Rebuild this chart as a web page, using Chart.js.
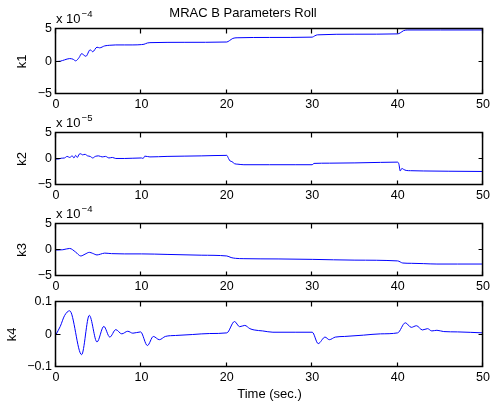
<!DOCTYPE html>
<html><head><meta charset="utf-8">
<script src="https://cdn.jsdelivr.net/npm/chart.js@4.4.0/dist/chart.umd.min.js"></script>
<style>
html,body{margin:0;padding:0;background:#fff;}
#wrap{position:relative;width:493px;height:404px;overflow:hidden;background:#fff;}
canvas{position:absolute;left:0;top:0;}
.exp{position:absolute;left:56px;font-family:'Liberation Sans',Arial,sans-serif;font-size:13px;line-height:16px;color:#000;white-space:nowrap;}
.exp sup{font-size:9.5px;vertical-align:0;position:relative;top:-6px;margin-left:1px;}
</style></head>
<body><div id="wrap">
<canvas id="c1" width="493" height="404"></canvas>
<canvas id="c2" width="493" height="404"></canvas>
<canvas id="c3" width="493" height="404"></canvas>
<canvas id="c4" width="493" height="404"></canvas>
<div class="exp" id="e1">x 10<sup>&minus;4</sup></div>
<div class="exp" id="e2">x 10<sup>&minus;5</sup></div>
<div class="exp" id="e3">x 10<sup>&minus;4</sup></div>
</div>
<script>
// ---------- data ----------
const chartTitle = 'MRAC B Parameters Roll';
const xLabel = 'Time (sec.)';
const xTicks = [0, 10, 20, 30, 40, 50];
const xTickLabels = ['0', '10', '20', '30', '40', '50'];
const smallTicks = [-5, 0, 5];
const smallTickLabels = ['\u22125', '0', '5'];
const k4Ticks = [-0.1, 0, 0.1];
const k4TickLabels = ['\u22120.1', '0', '0.1'];

// k1 (x 1e-4)
const k1T = [0, 0.5, 1.0, 1.6, 2.0, 2.3, 2.7, 3.0, 3.5, 4.0, 4.3, 4.8, 5.1, 5.7, 6.3, 7, 8, 9, 10, 10.3, 10.7, 11, 15, 20, 20.3, 20.7, 21.2, 25, 30, 30.3, 30.6, 35, 40, 40.3, 40.7, 41.2, 45, 50];
const k1V = [0, 0.05, 0.25, 0.45, 0.35, 0.1, 0.6, 1.2, 0.8, 1.8, 1.5, 2.2, 2.1, 2.4, 2.5, 2.55, 2.55, 2.55, 2.6, 2.65, 2.85, 2.9, 2.95, 3.0, 3.2, 3.55, 3.65, 3.7, 3.75, 3.95, 4.1, 4.2, 4.25, 4.4, 4.75, 4.85, 4.85, 4.85];

// k2 (x 1e-5)
const k2T = [0, 0.3, 0.6, 1.0, 1.3, 1.6, 1.9, 2.1, 2.3, 2.5, 2.7, 2.9, 3.1, 3.4, 3.7, 4.0, 4.3, 4.6, 5.0, 5.4, 5.8, 6.2, 6.6, 7.0, 8, 9, 10, 10.2, 10.4, 11, 13, 15, 17, 20, 20.2, 20.4, 20.6, 20.9, 21.3, 22, 25, 28, 30, 30.2, 32, 35, 38, 40, 40.15, 40.3, 40.5, 40.7, 41, 41.5, 43, 46, 50];
const k2V = [0, 0.0, 0.15, 0.2, 0.5, 0.3, 0.6, 0.2, 0.7, 0.3, 0.9, 1.0, 0.8, 0.9, 0.6, 0.5, 0.2, 0.5, 0.6, 0.4, 0.5, 0.2, 0.3, 0.1, 0.1, 0.15, 0.2, 0.1, 0.55, 0.4, 0.5, 0.55, 0.6, 0.7, 0.1, -0.4, -0.5, -0.9, -1.0, -1.1, -1.1, -1.1, -1.1, -0.85, -0.8, -0.75, -0.65, -0.6, -1.0, -2.3, -1.8, -2.0, -2.2, -2.25, -2.3, -2.35, -2.4];

// k3 (x 1e-4)
const k3T = [0, 0.8, 1.6, 2.3, 2.9, 3.4, 3.9, 4.3, 4.8, 5.2, 5.7, 6.5, 8, 10, 13, 17, 20, 20.5, 21, 22, 26, 30, 35, 40, 40.6, 41.6, 43, 44.6, 47, 50];
const k3V = [0, 0.05, 0.3, -0.4, -1.15, -0.8, -0.45, -0.65, -0.95, -0.8, -0.6, -0.7, -0.75, -0.75, -0.85, -1.0, -1.15, -1.45, -1.6, -1.67, -1.72, -1.8, -1.95, -2.1, -2.5, -2.56, -2.62, -2.7, -2.7, -2.7];

// k4
const k4T = [0, 0.5, 1.0, 1.6, 3.0, 3.9, 4.8, 5.6, 6.3, 7.0, 7.7, 8.4, 9.0, 9.9, 10.7, 11.4, 12.1, 12.8, 14, 16, 18, 20, 20.9, 21.5, 22.1, 22.7, 23.2, 24.2, 25.4, 28, 30, 30.7, 31.5, 32.0, 32.7, 33.8, 36, 38, 40, 40.9, 41.6, 42.2, 42.9, 43.5, 44.0, 44.6, 45.4, 47, 50];
const k4V = [0, 0.025, 0.058, 0.073, -0.062, 0.059, -0.023, 0.025, -0.008, 0.015, 0.002, 0.010, 0.004, 0.008, -0.034, -0.006, -0.016, -0.006, -0.003, 0.0, 0.003, 0.005, 0.040, 0.024, 0.028, 0.018, 0.014, 0.011, 0.007, 0.007, 0.007, -0.028, -0.008, -0.016, -0.008, -0.006, -0.002, 0.002, 0.005, 0.036, 0.022, 0.027, 0.014, 0.018, 0.011, 0.013, 0.009, 0.008, 0.005];

// ---------- layout ----------
const W = 493, H = 404;
const FONT = "'Liberation Sans', Arial, Helvetica, sans-serif";
Chart.defaults.color = '#000';
Chart.defaults.font.family = FONT;

const boxTicks = {
  id: 'boxTicks',
  afterDatasetsDraw(chart) {
    const {ctx, chartArea: a, scales: {x, y}} = chart;
    const L = 4.5;
    ctx.save();
    ctx.strokeStyle = '#000';
    ctx.lineWidth = 1.2;
    ctx.beginPath();
    x.ticks.forEach(t => {
      const px = Math.round(x.getPixelForValue(t.value)) - 0.5;
      ctx.moveTo(px, a.bottom); ctx.lineTo(px, a.bottom - L);
      ctx.moveTo(px, a.top); ctx.lineTo(px, a.top + L);
    });
    y.ticks.forEach(t => {
      const py = Math.round(y.getPixelForValue(t.value)) - 0.5;
      ctx.moveTo(a.left, py); ctx.lineTo(a.left + L, py);
      ctx.moveTo(a.right, py); ctx.lineTo(a.right - L, py);
    });
    ctx.stroke();
    ctx.lineWidth = 1.5;
    ctx.strokeRect(a.left - 0.5, a.top - 0.5, a.right - a.left, a.bottom - a.top);
    ctx.restore();
  }
};

function makeChart(id, o) {
  const axisH = o.xTitle ? (H - o.bottom) : 20;
  const padBottom = H - o.bottom - axisH;
  new Chart(document.getElementById(id), {
    type: 'line',
    data: {
      datasets: [{
        data: o.t.map((t, i) => ({x: t, y: o.v[i]})),
        borderColor: '#0000ff',
        borderWidth: 1,
        pointRadius: 0,
        fill: false,
        cubicInterpolationMode: 'monotone'
      }]
    },
    options: {
      responsive: false,
      animation: false,
      devicePixelRatio: 1,
      events: [],
      layout: {padding: {left: 0, right: 7, top: o.title ? 0 : o.top, bottom: padBottom}},
      plugins: {
        legend: {display: false},
        tooltip: {enabled: false},
        title: o.title ? {
          display: true, text: o.title, color: '#000',
          font: {family: FONT, size: 13, weight: 'normal'},
          padding: {top: 5.2, bottom: o.top - 15.6 - 5.2}
        } : {display: false}
      },
      scales: {
        x: {
          type: 'linear', min: 0, max: 50,
          afterBuildTicks: s => { s.ticks = xTicks.map(v => ({value: v})); },
          afterFit: s => { s.height = axisH; },
          grid: {display: false, drawTicks: false},
          border: {display: false},
          ticks: {
            callback: (v, i) => xTickLabels[i],
            padding: 3, maxRotation: 0, autoSkip: false,
            font: {family: FONT, size: 12.5}, color: '#000'
          },
          title: o.xTitle ? {
            display: true, text: o.xTitle, color: '#000',
            font: {family: FONT, size: 13},
            padding: {top: 2.2, bottom: 2.2}
          } : {display: false}
        },
        y: {
          type: 'linear', min: o.ticks[0], max: o.ticks[o.ticks.length - 1],
          afterBuildTicks: s => { s.ticks = o.ticks.map(v => ({value: v})); },
          afterFit: s => { s.width = 56; },
          grid: {display: false, drawTicks: false},
          border: {display: false},
          ticks: {
            callback: (v, i) => o.labels[i],
            padding: 4, autoSkip: false,
            font: {family: FONT, size: 12.5}, color: '#000'
          },
          title: {
            display: true, text: o.yTitle, color: '#000',
            font: {family: FONT, size: 13},
            padding: {top: o.yTitlePad, bottom: 0}
          }
        }
      }
    },
    plugins: [boxTicks]
  });
}

const plots = [
  {id: 'c1', top: 29, bottom: 94, t: k1T, v: k1V, ticks: smallTicks, labels: smallTickLabels, yTitle: 'k1', yTitlePad: 14.2, title: chartTitle, exp: 'e1'},
  {id: 'c2', top: 133, bottom: 185, t: k2T, v: k2V, ticks: smallTicks, labels: smallTickLabels, yTitle: 'k2', yTitlePad: 14.2, exp: 'e2'},
  {id: 'c3', top: 224, bottom: 276, t: k3T, v: k3V, ticks: smallTicks, labels: smallTickLabels, yTitle: 'k3', yTitlePad: 14.2, exp: 'e3'},
  {id: 'c4', top: 302, bottom: 367, t: k4T, v: k4V, ticks: k4Ticks, labels: k4TickLabels, yTitle: 'k4', yTitlePad: 4.7, xTitle: xLabel}
];
plots.forEach(p => {
  makeChart(p.id, p);
  if (p.exp) document.getElementById(p.exp).style.top = (p.top - 18.5) + 'px';
});
</script>
</body></html>
